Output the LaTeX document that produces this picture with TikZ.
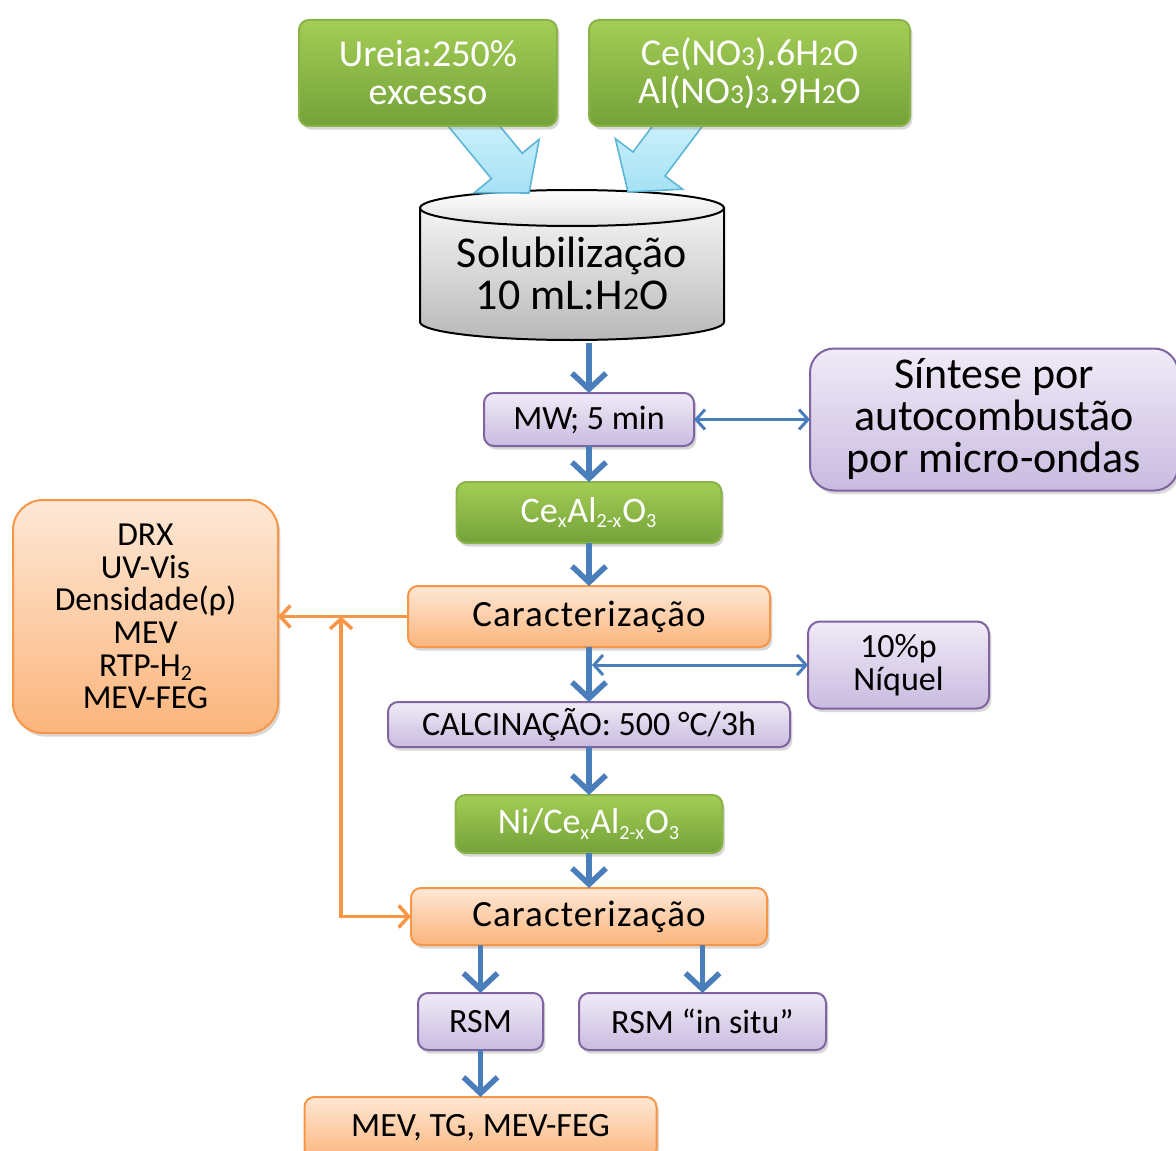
\documentclass[tikz,border=0pt]{standalone}
\usepackage{fontspec}
\setmainfont{Carlito}
\usepackage{tikz}
\usetikzlibrary{
  arrows.meta,
  positioning,
  calc,
  shadows
}
\definecolor{flGreenTop}{HTML}{A4CD55}
\definecolor{flGreenBot}{HTML}{74A23A}
\definecolor{flGreenLine}{HTML}{8AB34A}
\definecolor{flLilacTop}{HTML}{F0EBF7}
\definecolor{flLilacBot}{HTML}{C9BBE0}
\definecolor{flLilacLine}{HTML}{8064A2}
\definecolor{flOrangeTop}{HTML}{FEE8D6}
\definecolor{flOrangeBot}{HTML}{FBB57C}
\definecolor{flOrangeLine}{HTML}{F79646}
\definecolor{flBlue}{HTML}{4A7EBB}
\definecolor{flCyanTop}{HTML}{CDF1FB}
\definecolor{flCyan}{HTML}{A6E1F5}
\definecolor{flCyanLine}{HTML}{5BB5D5}
\definecolor{flGrayTop}{HTML}{F4F4F4}
\definecolor{flGrayBot}{HTML}{B9B9B9}
\newcommand{\fsz}[2]{\fontsize{#1}{#2}\selectfont}
\newcommand{\lowdig}[1]{\scalebox{0.72}{#1}}
\newcommand{\tinysub}[1]{\textsubscript{\scalebox{0.8}{#1}}}
\tikzset{
  flnode/.style={
    rounded corners=5pt, align=center, inner sep=0pt, outer sep=0pt, line width=1pt,
    drop shadow={shadow xshift=1.2pt, shadow yshift=-1.8pt, opacity=0.3}
  },
  greenbox/.style={flnode, draw=flGreenLine, top color=flGreenTop, bottom color=flGreenBot, text=white},
  lilacbox/.style={flnode, draw=flLilacLine, top color=flLilacTop, bottom color=flLilacBot},
  orangebox/.style={flnode, draw=flOrangeLine, top color=flOrangeTop, bottom color=flOrangeBot},
  flow/.style={-{Straight Barb[length=8pt,width=17pt]}, line width=2.75pt, flBlue},
  twoway/.style={{Straight Barb[length=4.5pt,width=10pt]}-{Straight Barb[length=4.5pt,width=10pt]}, line width=1.5pt, flBlue},
  oflow/.style={-{Straight Barb[length=5pt,width=11pt]}, line width=1.75pt, flOrangeLine},
  obothway/.style={{Straight Barb[length=5pt,width=11pt]}-{Straight Barb[length=5pt,width=11pt]}, line width=1.75pt, flOrangeLine},
  bigarrow/.style={top color=flCyanTop, bottom color=flCyan, draw=flCyanLine, line width=0.8pt}
}

\begin{document}
\begin{tikzpicture}[x=0.5pt, y=-0.5pt]
  \useasboundingbox[fill=white] (0,0) rectangle (1176,1150);
  % cylinder
  \path[top color=flGrayTop, bottom color=flGrayBot, draw=black, line width=1pt]
    (420,208) -- (420,322) arc[start angle=180, end angle=0, x radius=152, y radius=18] -- (724,208);
  \draw[top color=white, bottom color=black!12, line width=1pt] (572,208) ellipse[x radius=152, y radius=18];
  % fat arrows into the cylinder
  \draw[bigarrow] (441.5,118) -- (491.4,178.7) -- (474.4,192.7) -- (529,193) -- (539.2,139.3) -- (522.2,153.3) -- (493.2,118) -- cycle;
  \draw[bigarrow] (658.5,118) -- (633,152) -- (615.4,138.8) -- (628,192) -- (682.6,189.2) -- (665,176) -- (708.5,118) -- cycle;

  \node[greenbox, minimum width=129pt, minimum height=53pt, font=\fsz{19}{19}] (ureia) at (428,73) {Ureia:250\%\\excesso};
  \node[greenbox, minimum width=160.5pt, minimum height=53pt, font=\fsz{19}{19}] (nitr) at (749.5,73)
    {Ce(NO\lowdig{3}).6H\lowdig{2}O\\Al(NO\lowdig{3})\lowdig{3}.9H\lowdig{2}O};
  \node[font=\fsz{22}{21}, minimum width=152pt, minimum height=70pt, align=center] (solu) at (572,273) {Solubilização\\10 mL:H\lowdig{2}O};
  \node[lilacbox, minimum width=105pt, minimum height=26.5pt, font=\fsz{17}{17}] (mw) at (589,419.5) {MW; 5 min};
  \node[lilacbox, rounded corners=12pt, right=58pt of mw, minimum width=184pt, minimum height=71pt, font=\fsz{22}{21}] (sint)
    {Síntese por\\autocombustão\\por micro-ondas};
  \node[greenbox, below=18pt of mw, minimum width=132.5pt, minimum height=30.5pt, font=\fsz{18}{18}] (ceal)
    {Ce\tinysub{x}Al\tinysub{2-x}O\tinysub{3}};
  \node[orangebox, below=21.5pt of ceal, minimum width=181pt, minimum height=30.5pt, font=\fsz{18.5}{18.5}\addfontfeature{LetterSpace=3}] (car1) {Caracterização};
  \node[orangebox, rounded corners=15pt, left=65pt of car1, minimum width=132.5pt, minimum height=116.5pt, font=\fsz{16.8}{16.3}] (drx)
    {DRX\\UV-Vis\\Densidade(ρ)\\MEV\\RTP-H\raisebox{-0.12em}{\scalebox{0.65}{2}}\\MEV-FEG};
  \node[lilacbox, below=27.5pt of car1, minimum width=201pt, minimum height=22.5pt, font=\fsz{17}{17}] (calc) {CALCINAÇÃO: 500 °C/3h};
  \node[lilacbox, rounded corners=6pt, minimum width=90.5pt, minimum height=43.5pt, font=\fsz{17}{16.5}] (niq) at (898.5,665) {10\%p\\Níquel};
  \node[greenbox, below=24pt of calc, minimum width=133.5pt, minimum height=29pt, font=\fsz{18}{18}] (nice)
    {Ni/Ce\tinysub{x}Al\tinysub{2-x}O\tinysub{3}};
  \node[orangebox, below=17.5pt of nice, minimum width=178pt, minimum height=28.5pt, font=\fsz{18.5}{18.5}\addfontfeature{LetterSpace=3}] (car2) {Caracterização};
  \node[lilacbox, below=24pt of car2, xshift=-54.25pt, minimum width=62.5pt, minimum height=28.5pt, font=\fsz{17}{17}] (rsm) {RSM};
  \node[lilacbox, right=18pt of rsm, minimum width=123.5pt, minimum height=28.5pt, font=\fsz{17}{17}] (rsmis) {RSM “in situ”};
  \node[orangebox, below=23.5pt of rsm, minimum width=176pt, minimum height=31pt, font=\fsz{17}{17}] (mev) {MEV, TG, MEV-FEG};

  \draw[flow] (solu.south -| mw.north) -- (mw.north);
  \foreach \a/\b in {mw/ceal, ceal/car1, car1/calc, calc/nice, nice/car2}{\draw[flow] (\a.south) -- (\b.north);}
  \draw[flow] (car2.south -| rsm.north) -- (rsm.north);
  \draw[flow] (car2.south -| rsmis.north) -- (rsmis.north);
  \draw[flow] (rsm.south) -- (mev.north);
  \draw[twoway] (mw.east) -- (sint.west);
  \draw[twoway, shorten <=1.5pt] (car1.south |- niq.west) -- (niq.west);
  \draw[oflow] (car1.west) -- (drx.east);
  \coordinate (jn) at ($(drx.east)!0.485!(car1.west)$);
  \draw[obothway] (jn) |- (car2.west);
\end{tikzpicture}
\end{document}
